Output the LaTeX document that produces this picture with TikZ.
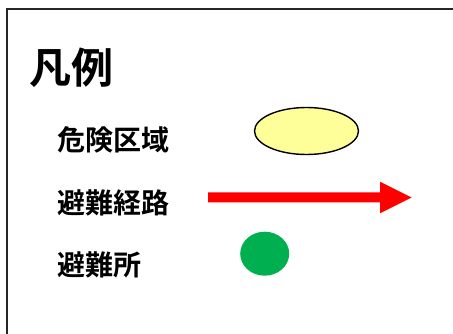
\documentclass[tikz,border=0pt]{standalone}
\usepackage{fontspec}
\usetikzlibrary{shapes.geometric}
\newfontfamily\jp{Noto Sans CJK JP}[BoldFont={* Bold}]
\definecolor{zoneyellow}{RGB}{255,255,153}
\definecolor{sheltergreen}{RGB}{0,176,80}
\begin{document}
\begin{tikzpicture}[x=1pt,y=-1pt,
  lbl/.style={anchor=west,inner sep=0pt,font=\jp\bfseries\fontsize{28}{30}\selectfont},
  title/.style={anchor=west,inner sep=0pt,font=\jp\bfseries\fontsize{42}{44}\selectfont},
  frame/.style={draw=black!85,line width=2pt}]
\useasboundingbox (0,0) rectangle (453,334);
\clip (0,0) rectangle (453,334);
\fill[white] (0,0) rectangle (453,334);
\draw[frame] (7,9) rectangle (480,360);
\node[title] (t) at (29,67.5) {凡例};
\node[lbl] (l1) at (57,140) {危険区域};
\node[lbl] (l2) at (57,202.5) {避難経路};
\node[lbl] (l3) at (57,265) {避難所};
\node[draw=black,line width=1.4pt,fill=zoneyellow,ellipse,minimum width=104pt,minimum height=47pt,inner sep=0pt] (e) at (306.5,131) {};
\fill[red] (208,192.5) -- (380,192.5) -- (380,181.7) -- (411.7,197.5) -- (380,213.3) -- (380,202.5) -- (208,202.5) -- cycle;
\node[fill=sheltergreen,ellipse,minimum width=49pt,minimum height=44pt,inner sep=0pt] (g) at (264.7,253.7) {};
\end{tikzpicture}
\end{document}
